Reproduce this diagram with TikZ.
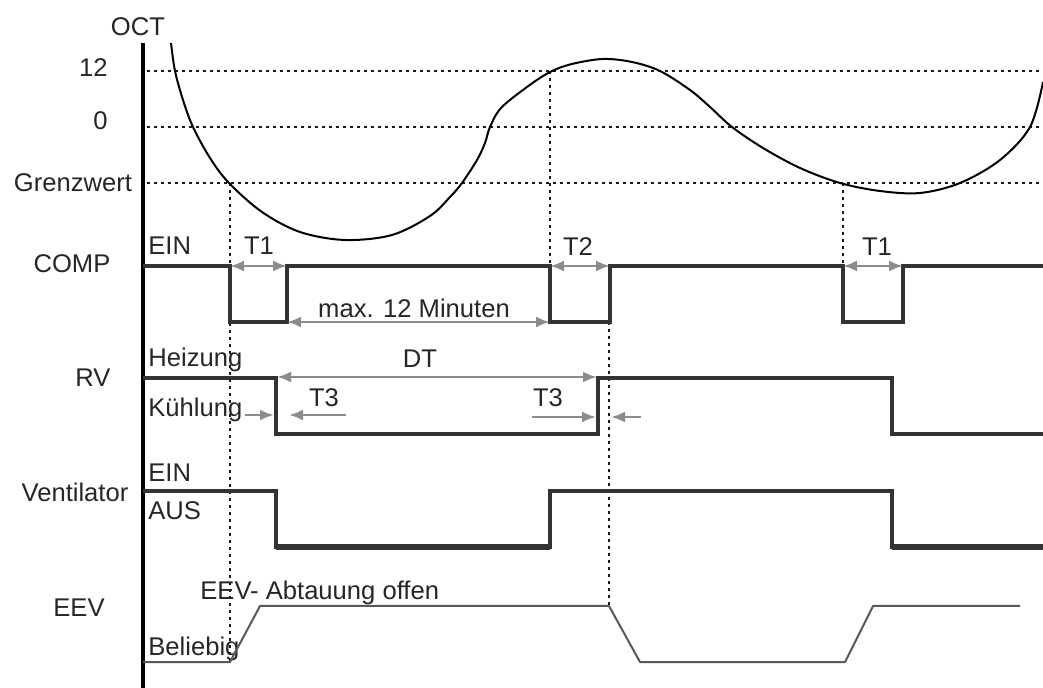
\documentclass[tikz,border=0pt]{standalone}
\usepackage{fontspec}
\setmainfont{Liberation Sans}
\usetikzlibrary{arrows.meta}
\begin{document}
\begin{tikzpicture}[x=0.5pt,y=-0.5pt,
  lbl/.style={font=\fontsize{12.8}{15}\selectfont, inner sep=0pt, text=black!85},
  sig/.style={draw=black!80, line width=1.7pt, line join=miter},
  sigthick/.style={draw=black!80, line width=2.8pt},
  eev/.style={draw=black!65, line width=1pt, line join=round},
  dots/.style={draw=black!90, line width=1.4pt, dash pattern=on 1.3pt off 2.2pt},
  garr/.style={draw=black!45, line width=1.3pt, -{Latex[length=7pt,width=5.5pt]}},
  garrr/.style={draw=black!45, line width=1.3pt, {Latex[length=7pt,width=5.5pt]}-{Latex[length=7pt,width=5.5pt]}},
]
\useasboundingbox (0,0) rectangle (1043,688);

% axis
\coordinate (axtop) at (143,43);
\coordinate (axbot) at (143,688);
\draw[line width=2pt, black] (axtop) -- (axbot);

% horizontal dotted reference lines
\coordinate (h12a) at (147,71);  \coordinate (h12b) at (1043,71);
\coordinate (h0a) at (147,127);  \coordinate (h0b) at (1043,127);
\coordinate (hga) at (147,183);  \coordinate (hgb) at (1043,183);
\draw[dots] (h12a) -- (h12b);
\draw[dots] (h0a) -- (h0b);
\draw[dots] (hga) -- (hgb);

% vertical dotted lines
\coordinate (v1a) at (230,183); \coordinate (v1b) at (230,662);
\coordinate (v2a) at (550,71);  \coordinate (v2b) at (550,266);
\coordinate (v3a) at (609,322); \coordinate (v3b) at (609,606);
\coordinate (v4a) at (843,183); \coordinate (v4b) at (843,266);
\draw[dots] (v1a) -- (v1b);
\draw[dots] (v2a) -- (v2b);
\draw[dots] (v3a) -- (v3b);
\draw[dots] (v4a) -- (v4b);

% OCT curve
\draw[black, line width=1pt] plot[smooth, tension=0.55] coordinates {
 (171,43) (175,71) (183,100) (193,127) (210,158) (229,183) (262,212) (300,232) (345,240)
 (392,235) (430,216) (450,197) (462,183) (477,160) (485,143) (490,127)
 (501,108) (527,87) (550,72) (572,64) (603,59) (632,62) (660,71)
 (690,90) (710,107) (732,127) (763,148) (800,168) (840,183) (880,191) (920,193)
 (960,183) (1000,160) (1030,127) (1043,82)};

% labels left
\node[lbl, anchor=base] (oct) at (138,36) {OCT};
\node[lbl, anchor=base east] (l12) at (108,77) {12};
\node[lbl, anchor=base east] (l0) at (108,130) {0};
\node[lbl, anchor=base] (lg) at (73,192) {Grenzwert};
\node[lbl, anchor=base] (comp) at (72,273) {COMP};
\node[lbl, anchor=base] (rv) at (93,387) {RV};
\node[lbl, anchor=base] (vent) at (75,502) {Ventilator};
\node[lbl, anchor=base] (eevl) at (79,617) {EEV};

% state labels
\node[lbl, anchor=base west] (ein1) at (148,255) {EIN};
\node[lbl, anchor=base west] (heiz) at (148,367) {Heizung};
\node[lbl, anchor=base west] (kuehl) at (148,417) {Kühlung};
\node[lbl, anchor=base west] (ein2) at (148,482) {EIN};
\node[lbl, anchor=base west] (aus) at (148,520) {AUS};
\node[lbl, anchor=base west] (belieb) at (148,655) {Beliebig};
\node[lbl, anchor=base west] (abt) at (200,600) {EEV- Abtauung offen};

% timing labels
\node[lbl, anchor=base] (t1a) at (259,255) {T1};
\node[lbl, anchor=base] (t2) at (578,256) {T2};
\node[lbl, anchor=base] (t1b) at (877,256) {T1};
\node[lbl, anchor=base] (max) at (414,318) {max. 12 Minuten};
\node[lbl, anchor=base] (dt) at (420,368) {DT};
\node[lbl, anchor=base] (t3a) at (324,407) {T3};
\node[lbl, anchor=base] (t3b) at (548,407) {T3};

% COMP signal
\draw[sig] (143,266) -- (230,266) -- (230,322) -- (287,322) -- (287,266) -- (550,266)
  -- (550,322) -- (610,322) -- (610,266) -- (843,266) -- (843,322) -- (903,322)
  -- (903,266) -- (1043,266);

% RV signal
\draw[sig] (143,378) -- (276,378) -- (276,434) -- (598,434) -- (598,378) -- (892,378)
  -- (892,434) -- (1043,434);

% Ventilator signal
\draw[sig] (143,491) -- (276,491) -- (276,547) -- (550,547) -- (550,491) -- (892,491)
  -- (892,547) -- (1043,547);
\draw[sigthick] (276,547) -- (550,547);
\draw[sigthick] (892,547) -- (1043,547);

% EEV signal
\draw[eev] (143,662) -- (230,662) -- (260,606) -- (609,606) -- (640,662) -- (845,662)
  -- (873,606) -- (1020,606);

% gray arrows
\coordinate (a1l) at (230,266); \coordinate (a1r) at (287,266);
\coordinate (a2l) at (550,266); \coordinate (a2r) at (610,266);
\coordinate (a3l) at (843,266); \coordinate (a3r) at (903,266);
\coordinate (mxl) at (287,322); \coordinate (mxr) at (550,322);
\coordinate (dtl) at (277,377); \coordinate (dtr) at (597,377);
\draw[garrr] (a1l) -- (a1r);
\draw[garrr] (a2l) -- (a2r);
\draw[garrr] (a3l) -- (a3r);
\draw[garrr] (mxl) -- (mxr);
\draw[garrr] (dtl) -- (dtr);

\coordinate (t3a1) at (245,415); \coordinate (t3a2) at (274,415);
\coordinate (t3a3) at (346,415); \coordinate (t3a4) at (289,415);
\coordinate (t3b1) at (532,417); \coordinate (t3b2) at (596,417);
\coordinate (t3b3) at (641,417); \coordinate (t3b4) at (611,417);
\draw[garr] (t3a1) -- (t3a2);
\draw[garr] (t3a3) -- (t3a4);
\draw[garr] (t3b1) -- (t3b2);
\draw[garr] (t3b3) -- (t3b4);
\end{tikzpicture}
\end{document}
